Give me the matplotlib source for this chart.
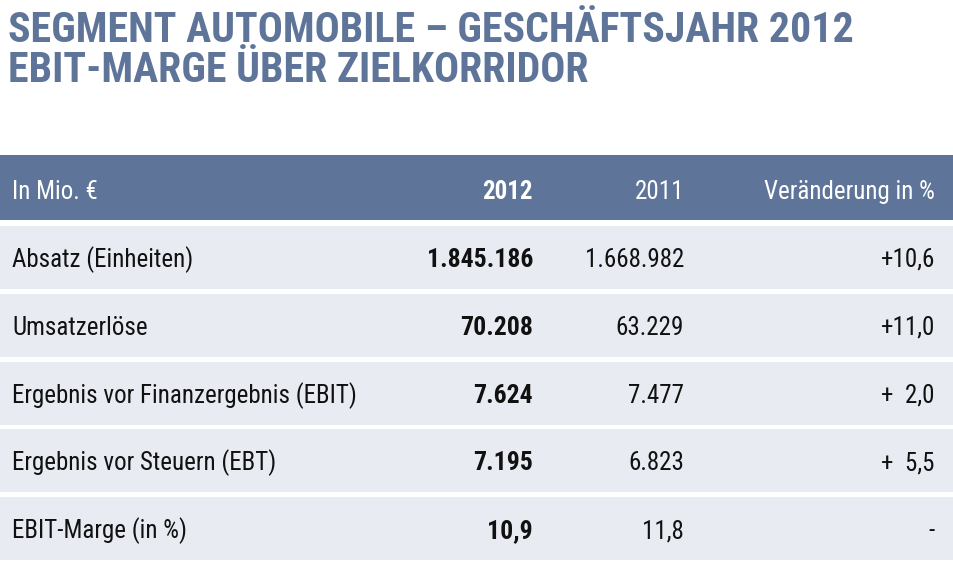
import matplotlib
matplotlib.use("Agg")
import matplotlib.pyplot as plt
from matplotlib.patches import Rectangle
from matplotlib import font_manager as fm

# ---- data ----
title_lines = ["SEGMENT AUTOMOBILE – GESCHÄFTSJAHR 2012", "EBIT-MARGE ÜBER ZIELKORRIDOR"]
header = ["In Mio. €", "2012", "2011", "Veränderung in %"]
row_labels = ["Absatz (Einheiten)", "Umsatzerlöse", "Ergebnis vor Finanzergebnis (EBIT)",
              "Ergebnis vor Steuern (EBT)", "EBIT-Marge (in %)"]
values_2012 = ["1.845.186", "70.208", "7.624", "7.195", "10,9"]
values_2011 = ["1.668.982", "63.229", "7.477", "6.823", "11,8"]
changes = ["+10,6", "+11,0", "+  2,0", "+  5,5", "-"]

# ---- style ----
HEAD_COL = "#5E7599"
ROW_COL = "#E8EBF2"
TXT = "#111111"

avail = {f.name for f in fm.fontManager.ttflist}
font = "DejaVu Sans"
for cand in ["Roboto Condensed", "Liberation Sans Narrow", "Open Sans Condensed", "Liberation Sans"]:
    if cand in avail:
        font = cand
        break
plt.rcParams['font.family'] = [font, 'DejaVu Sans']

W, H = 954, 570
fig = plt.figure(figsize=(W / 100, H / 100), dpi=100)
ax = fig.add_axes([0, 0, 1, 1])
ax.set_xlim(0, W)
ax.set_ylim(H, 0)
ax.axis("off")

# title
for i, line in enumerate(title_lines):
    ax.text(8, 42 + i * 40, line, fontsize=30.2, fontweight="bold", color=HEAD_COL,
            ha="left", va="baseline")

# header band
ax.add_patch(Rectangle((0, 155), W, 65, facecolor=HEAD_COL, edgecolor="none"))
col_x = [12, 533, 684, 935]
col_ha = ["left", "right", "right", "right"]
for j, h in enumerate(header):
    ax.text(col_x[j], 199, h, fontsize=18, color="white", ha=col_ha[j], va="baseline",
            fontweight="bold" if j == 1 else "normal")

# rows
row_top0, step, rh = 226, 67.8, 63
for i, lab in enumerate(row_labels):
    top = row_top0 + i * step
    ax.add_patch(Rectangle((0, top), W, rh, facecolor=ROW_COL, edgecolor="none"))
    base = top + 41
    ax.text(col_x[0], base, lab, fontsize=18, color=TXT, ha="left", va="baseline")
    ax.text(col_x[1], base, values_2012[i], fontsize=18.5, color=TXT, ha="right",
            va="baseline", fontweight="bold")
    ax.text(col_x[2], base, values_2011[i], fontsize=18, color=TXT, ha="right", va="baseline")
    ax.text(col_x[3], base, changes[i], fontsize=18, color=TXT, ha="right", va="baseline")

fig.savefig("out.png", dpi=100, facecolor="white")
